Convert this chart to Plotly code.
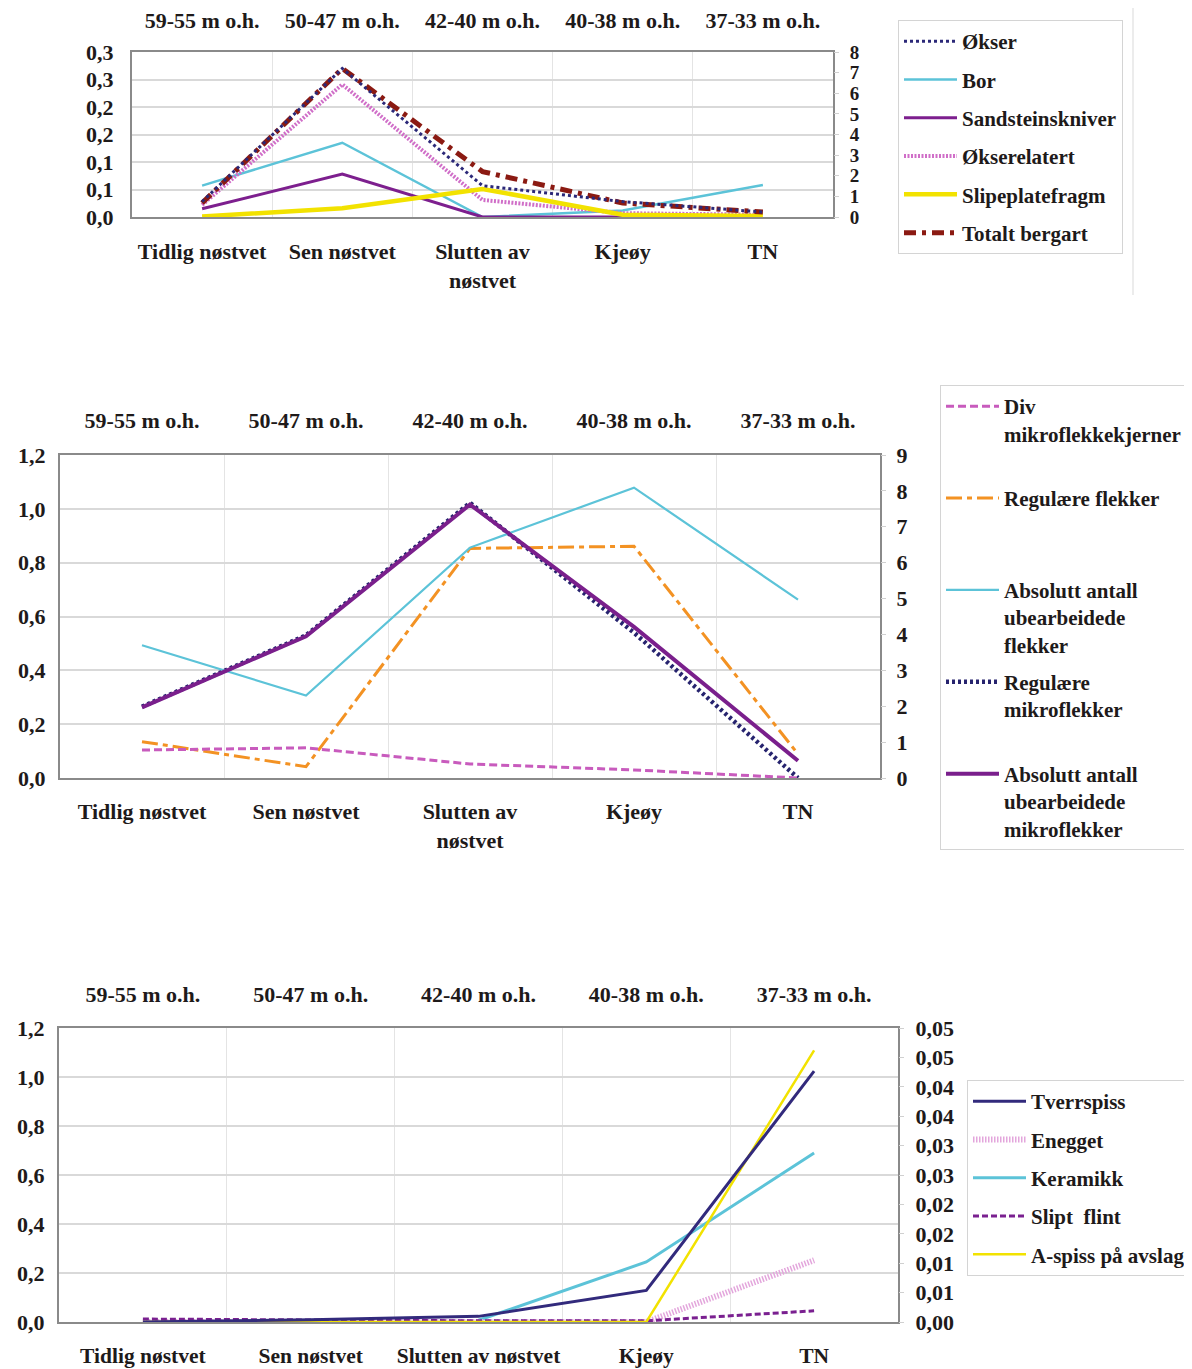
import plotly.graph_objects as go

# The page body has an 8px default margin, so the figure is sized to fill
# the remaining viewport and reference pixel positions are shifted by 8.
OFF = 8
W, H = 1192 - OFF, 1369 - OFF

# ---------------- data ----------------
categories = ["Tidlig nøstvet", "Sen nøstvet", "Slutten av nøstvet", "Kjeøy", "TN"]
cat_labels_wrapped = ["Tidlig nøstvet", "Sen nøstvet", "Slutten av<br>nøstvet", "Kjeøy", "TN"]
cat_labels_flat = ["Tidlig nøstvet", "Sen nøstvet", "Slutten av nøstvet", "Kjeøy", "TN"]
height_labels = ["59-55 m o.h.", "50-47 m o.h.", "42-40 m o.h.", "40-38 m o.h.", "37-33 m o.h."]

# Panel 1 (left axis 0-0.3, right axis 0-8)
p1_okser = [0.028, 0.270, 0.057, 0.028, 0.009]
p1_bor = [0.057, 0.135, 0.0, 0.012, 0.058]
p1_sandsteinskniver = [0.015, 0.078, 0.0, 0.0, None]
p1_okserelatert = [0.022, 0.241, 0.031, 0.007, 0.004]
p1_slipeplatefragm = [0.001, 0.016, 0.051, 0.004, 0.002]
p1_totalt_bergart = [0.68, 7.2, 2.2, 0.68, 0.24]          # right axis
p1_left_ticks = [0, 0.05, 0.10, 0.15, 0.20, 0.25, 0.30]
p1_left_text = ["0,0", "0,1", "0,1", "0,2", "0,2", "0,3", "0,3"]
p1_right_ticks = [0, 1, 2, 3, 4, 5, 6, 7, 8]

# Panel 2 (left axis 0-1.2, right axis 0-9)
p2_div_mikroflekkekjerner = [0.104, 0.112, 0.052, 0.030, 0.0]
p2_regulaere_flekker = [0.135, 0.042, 0.853, 0.861, 0.089]
p2_abs_ubearb_flekker = [3.70, 2.30, 6.42, 8.09, 4.97]     # right axis
p2_regulaere_mikroflekker = [0.265, 0.530, 1.022, 0.540, 0.0]
p2_abs_ubearb_mikroflekker = [1.97, 3.95, 7.62, 4.21, 0.48]  # right axis
p2_left_ticks = [0, 0.2, 0.4, 0.6, 0.8, 1.0, 1.2]
p2_left_text = ["0,0", "0,2", "0,4", "0,6", "0,8", "1,0", "1,2"]
p2_right_ticks = [0, 1, 2, 3, 4, 5, 6, 7, 8, 9]

# Panel 3 (left axis 0-1.2, right axis 0-0.05)
p3_tverrspiss = [0.0, 0.0095, 0.023, 0.129, 1.024]
p3_keramikk = [None, None, 0.007, 0.245, 0.690]
p3_enegget = [0.0, 0.0, 0.0, 0.0, 0.0105]                 # right axis
p3_slipt_flint = [0.0005, 0.0003, 0.0002, 0.0002, 0.0019]  # right axis
p3_a_spiss = [0.0, 0.0, 0.0, 0.0, 0.0462]                  # right axis
p3_left_ticks = [0, 0.2, 0.4, 0.6, 0.8, 1.0, 1.2]
p3_left_text = ["0,0", "0,2", "0,4", "0,6", "0,8", "1,0", "1,2"]
p3_right_ticks = [0, 0.005, 0.01, 0.015, 0.02, 0.025, 0.03, 0.035, 0.04, 0.045, 0.05]
p3_right_text = ["0,00", "0,01", "0,01", "0,02", "0,02", "0,03", "0,03", "0,04", "0,04", "0,05", "0,05"]

# ---------------- styling ----------------
FONT = "Liberation Serif"
TXT = "#1e1a1a"
FS = 22
LFS = 21
BORDER = "#8a8a8a"
HGRID = "#d9d9d9"
VGRID = "#e4e4e4"

fig = go.Figure()


def add(y, name, color, width, dash, xa, ya, legend):
    fig.add_trace(go.Scatter(
        x=categories, y=y, name=name, mode="lines",
        line=dict(color=color, width=width, dash=dash),
        xaxis=xa, yaxis=ya, legend=legend, legendgroup=name,
        connectgaps=False, hoverinfo="skip"))


def pad3(s):
    n = s.count("<br>") + 1
    return s + "<br>\u00a0" * (3 - n)


# Panel 1
add(p1_okser, "Økser", "#2b2878", 3, "dot", "x2", "y", "legend")
add(p1_bor, "Bor", "#5cc3d8", 2.5, "solid", "x", "y", "legend")
add(p1_sandsteinskniver, "Sandsteinskniver", "#7d1f8e", 3, "solid", "x", "y", "legend")
add(p1_okserelatert, "Økserelatert", "#d06ec8", 4, "2px,1.5px", "x", "y", "legend")
add(p1_slipeplatefragm, "Slipeplatefragm", "#f2e200", 4.5, "solid", "x", "y", "legend")
add(p1_totalt_bergart, "Totalt bergart", "#8b1a12", 5, "12px,6px,4px,6px", "x", "y2", "legend")

# Panel 2
add(p2_div_mikroflekkekjerner, pad3("Div<br>mikroflekkekjerner"), "#c85bbd", 3, "8px,4px", "x4", "y3", "legend2")
add(p2_regulaere_flekker, pad3("Regulære flekker"), "#f39223", 3, "16px,5px,5px,5px", "x3", "y3", "legend2")
add(p2_abs_ubearb_flekker, pad3("Absolutt antall<br>ubearbeidede<br>flekker"), "#5cc3d8", 2.2, "solid", "x3", "y4", "legend2")
add(p2_regulaere_mikroflekker, pad3("Regulære<br>mikroflekker"), "#26236e", 4.5, "3px,3px", "x3", "y3", "legend2")
add(p2_abs_ubearb_mikroflekker, pad3("Absolutt antall<br>ubearbeidede<br>mikroflekker"), "#7a1f8c", 4, "solid", "x3", "y4", "legend2")

# Panel 3
add(p3_tverrspiss, "Tverrspiss", "#322a7c", 3, "solid", "x6", "y5", "legend3")
add(p3_enegget, "Enegget", "#e3a6dc", 6, "1.5px,1.5px", "x5", "y6", "legend3")
add(p3_keramikk, "Keramikk", "#5cc3d8", 3, "solid", "x5", "y5", "legend3")
add(p3_slipt_flint, "Slipt  flint", "#7a2090", 3, "6px,3px", "x5", "y6", "legend3")
add(p3_a_spiss, "A-spiss på avslag", "#f2e200", 2.5, "solid", "x5", "y6", "legend3")


def px_x(a, b):
    return [(a - OFF) / W, (b - OFF) / W]


def px_y(top, bottom):
    return [1 - (bottom - OFF) / H, 1 - (top - OFF) / H]


def lx(x):
    return (x - OFF) / W


def ly(y):
    return 1 - (y - OFF) / H


def tf(size=FS):
    return dict(family=FONT, size=size, color=TXT, weight="bold")


def xbottom(domain, anchor, labels, standoff, size=FS):
    return dict(domain=domain, anchor=anchor, type="category",
                categoryorder="array", categoryarray=categories,
                range=[-0.5, 4.5], tickmode="array", tickvals=categories,
                ticktext=labels, ticks="", tickson="boundaries", tickangle=0,
                showgrid=True, gridcolor=VGRID, gridwidth=1,
                showline=True, linecolor=BORDER, linewidth=2, mirror=True,
                tickfont=tf(size), ticklabelstandoff=standoff, fixedrange=True)


def xtop(overlay, anchor, standoff):
    return dict(overlaying=overlay, anchor=anchor, side="top", type="category",
                categoryorder="array", categoryarray=categories,
                range=[-0.5, 4.5], tickmode="array", tickvals=categories,
                ticktext=height_labels, ticks="", showgrid=False, tickangle=0,
                showline=False, tickfont=tf(), ticklabelstandoff=standoff,
                fixedrange=True)


def yleft(domain, anchor, rng, vals, text, standoff):
    return dict(domain=domain, anchor=anchor, range=rng, tickmode="array",
                tickvals=vals, ticktext=text, showgrid=True, gridcolor=HGRID,
                gridwidth=2, zeroline=False, showline=True, linecolor=BORDER,
                linewidth=2, mirror=True, ticks="", tickfont=tf(),
                ticklabelstandoff=standoff, fixedrange=True)


def yright(overlay, anchor, rng, vals, text, standoff, size=FS):
    return dict(overlaying=overlay, anchor=anchor, side="right", range=rng,
                tickmode="array", tickvals=vals, ticktext=text, showgrid=False,
                zeroline=False, showline=False, ticks="outside", ticklen=5,
                tickcolor="#d0d0d0", tickfont=tf(size),
                ticklabelstandoff=standoff, fixedrange=True)


legend_common = dict(font=tf(LFS),
                     bgcolor="white", bordercolor="#d4d4d4", borderwidth=1,
                     xanchor="left", yanchor="top", valign="top",
                     itemwidth=53, itemclick=False, itemdoubleclick=False)

fig.update_layout(
    width=W, height=H, autosize=False,
    margin=dict(l=0, r=0, t=0, b=0, autoexpand=False),
    paper_bgcolor="white", plot_bgcolor="white",
    font=dict(family=FONT, size=FS, color=TXT),
    xaxis=xbottom(px_x(132, 833), "y", cat_labels_wrapped, 14),
    xaxis2=xtop("x", "y", 19),
    yaxis=yleft(px_y(52, 217), "x", [0, 0.3], p1_left_ticks, p1_left_text, 12),
    yaxis2=yright("y", "x", [0, 8], p1_right_ticks, [str(v) for v in p1_right_ticks], 7, 19),
    xaxis3=xbottom(px_x(60, 880), "y3", cat_labels_wrapped, 13),
    xaxis4=xtop("x3", "y3", 22),
    yaxis3=yleft(px_y(455, 778), "x3", [0, 1.2], p2_left_ticks, p2_left_text, 8),
    yaxis4=yright("y3", "x3", [0, 9], p2_right_ticks, [str(v) for v in p2_right_ticks], 6),
    xaxis5=xbottom(px_x(59, 898), "y5", cat_labels_flat, 13, 21.5),
    xaxis6=xtop("x5", "y5", 21),
    yaxis5=yleft(px_y(1028, 1322), "x5", [0, 1.2], p3_left_ticks, p3_left_text, 8),
    yaxis6=yright("y5", "x5", [0, 0.05], p3_right_ticks, p3_right_text, 7),
    legend=dict(x=lx(898), y=ly(20), tracegroupgap=8, **legend_common),
    legend2=dict(x=lx(940), y=ly(385), tracegroupgap=7, **legend_common),
    legend3=dict(x=lx(967), y=ly(1080), tracegroupgap=8, **legend_common),
    showlegend=True,
)

# faint frame edge of the first chart object
fig.add_shape(type="line", xref="paper", yref="paper",
              x0=lx(1133), x1=lx(1133), y0=ly(295), y1=1,
              line=dict(color="#ececec", width=2))

fig.write_html("out.html")
